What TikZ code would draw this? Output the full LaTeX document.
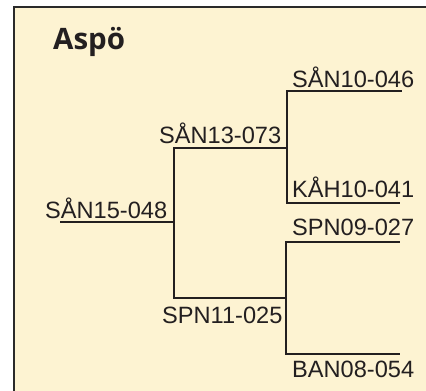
\documentclass[tikz,border=0pt]{standalone}
\usepackage{fontspec}
\setmainfont{Liberation Sans}
\newfontfamily\titlefont{Open Sans}
\definecolor{paper}{HTML}{FDF3D2}
\definecolor{ink}{HTML}{231F20}
\definecolor{frame}{HTML}{2A2A2A}
\begin{document}
\begin{tikzpicture}[x=1pt,y=-1pt,
  lbl/.style={inner sep=0pt,anchor=base west,text=ink,font=\fontsize{23.6}{27}\selectfont},
  branch/.style={draw=ink,line width=2pt,line cap=rect}]
\useasboundingbox (0,0) rectangle (426,391);
\fill[paper] (14,7) rectangle (430,395);
\draw[frame,line width=2.8pt] (14,395) -- (14,7) -- (430,7);
\node[inner sep=0pt,anchor=base west,text=ink,font=\titlefont\bfseries\fontsize{29.5}{33}\selectfont] (title) at (53,49) {Aspö};
% junctions
\coordinate (r0) at (61,222);
\coordinate (r1) at (174,222);
\coordinate (a0) at (174,148);
\coordinate (a1) at (287,148);
\coordinate (b0) at (174,298);
\coordinate (b1) at (286,298);
\coordinate (a2) at (287,91);
\coordinate (a3) at (401,91);
\coordinate (a4) at (287,203);
\coordinate (a5) at (399,203);
\coordinate (b2) at (286,242);
\coordinate (b3) at (399,242);
\coordinate (b4) at (286,354);
\coordinate (b5) at (399,354);
\draw[branch] (r0) -- (r1);
\draw[branch] (a0) -- (b0);
\draw[branch] (a0) -- (a1);
\draw[branch] (b0) -- (b1);
\draw[branch] (a2) -- (a4);
\draw[branch] (a2) -- (a3);
\draw[branch] (a4) -- (a5);
\draw[branch] (b2) -- (b4);
\draw[branch] (b2) -- (b3);
\draw[branch] (b4) -- (b5);
% labels
\node[lbl] (n1) at (292,87) {SÅN10-046};
\node[lbl] (n2) at (159,143) {SÅN13-073};
\node[lbl] (n3) at (292,197) {KÅH10-041};
\node[lbl] (n4) at (45,218) {SÅN15-048};
\node[lbl] (n5) at (292,235) {SPN09-027};
\node[lbl] (n6) at (162,323) {SPN11-025};
\node[lbl] (n7) at (292,377) {BAN08-054};
\end{tikzpicture}
\end{document}
